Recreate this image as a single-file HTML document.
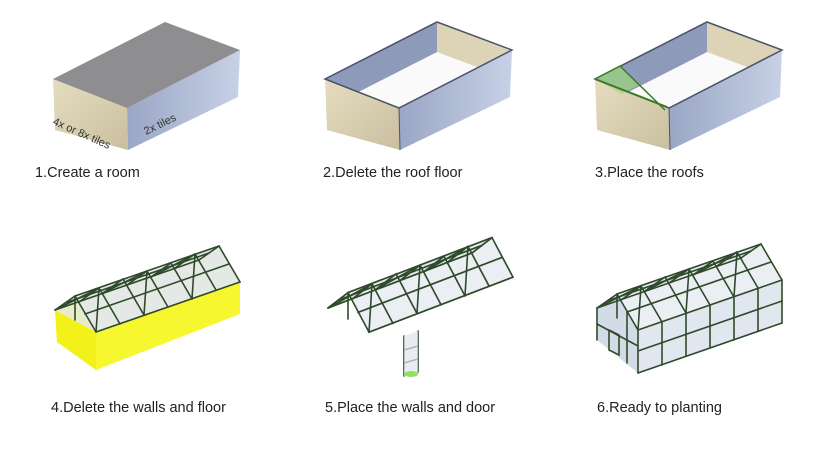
<!DOCTYPE html>
<html><head><style>
body{margin:0;background:#fff;}
svg{display:block;}
text{font-family:"Liberation Sans",sans-serif;}
.lbl{font-size:14.5px;fill:#222;}
.g line,.g polyline{stroke:#2f4a2a;stroke-width:1.6;fill:none;stroke-linecap:round;}
</style></head><body>
<svg width="830" height="450" viewBox="0 0 830 450" xmlns="http://www.w3.org/2000/svg">
<defs>
<linearGradient id="front" x1="0" y1="0" x2="1" y2="1"><stop offset="0" stop-color="#e6dcc0"/><stop offset="1" stop-color="#c9bf9f"/></linearGradient>
<linearGradient id="side" x1="0" y1="0" x2="1" y2="0"><stop offset="0" stop-color="#9aa6c4"/><stop offset="1" stop-color="#c7d1e6"/></linearGradient>
<clipPath id="c2"><polygon points="53,79 165,22 240,50 127,108"/></clipPath>
<g id="box">
<polygon points="53,79 127,108 128,150 55,130" fill="url(#front)"/>
<polygon points="127,108 240,50 238,97 128,150" fill="url(#side)"/>
</g>
<g id="hollow">
<use href="#box"/>
<polygon points="53,79 165,22 240,50 127,108" fill="#fafafa"/>
<g clip-path="url(#c2)">
<polygon points="53,79 165,22 165,52 53,109" fill="#8e9aba"/>
<polygon points="165,22 240,50 240,80 165,52" fill="#ddd3b6"/>
</g>
<polygon points="53,79 165,22 240,50 127,108" fill="none" stroke="#4a5268" stroke-width="1.5"/>
<line x1="127" y1="108" x2="128" y2="150" stroke="#4a5268" stroke-width="1"/>
</g>
<g id="frame" class="g">
<line x1="0" y1="0" x2="144" y2="-50"/><line x1="20" y1="-14" x2="164" y2="-64"/><line x1="41" y1="22" x2="185" y2="-28"/>
<line x1="10" y1="-7" x2="154" y2="-57"/><line x1="30" y1="4" x2="174" y2="-46"/>
<polyline points="0,0 20,-14 41,22"/><polyline points="24,-8 44,-22 65,14"/><polyline points="48,-17 68,-31 89,5"/>
<polyline points="72,-25 92,-39 113,-3"/><polyline points="96,-33 116,-47 137,-11"/><polyline points="120,-42 140,-56 161,-20"/><polyline points="144,-50 164,-64 185,-28"/>
<line x1="0" y1="0" x2="44" y2="-22"/><line x1="48" y1="-17" x2="92" y2="-39"/><line x1="96" y1="-33" x2="140" y2="-56"/>
<line x1="41" y1="22" x2="44" y2="-22"/><line x1="89" y1="5" x2="92" y2="-39"/><line x1="137" y1="-11" x2="140" y2="-56"/>
<line x1="20" y1="-14" x2="20" y2="10"/>
</g>
<g id="roofs">
<polygon points="0,0 20,-14 164,-64 144,-50" fill="#d6dde6" opacity="0.6"/>
<polygon points="20,-14 41,22 185,-28 164,-64" fill="#e2e8ef" opacity="0.7"/>
</g>
</defs>

<!-- panel 1 -->
<use href="#box"/>
<polygon points="53,79 165,22 240,50 127,108" fill="#8e8e90"/>
<text x="0" y="0" font-size="11" fill="#333" transform="translate(52,124) rotate(24)">4x or 8x tiles</text>
<text x="0" y="0" font-size="11" fill="#333" transform="translate(146,135) rotate(-26)">2x tiles</text>

<!-- panel 2 -->
<use href="#hollow" transform="translate(272,0)"/>
<!-- panel 3 -->
<use href="#hollow" transform="translate(542,0)"/>
<polygon points="595,79 620,66 640,84 622,94" fill="#9fd67a" opacity="0.7"/>
<polyline points="595,79 620,66 665,110" fill="none" stroke="#3c7a2a" stroke-width="1.5"/>
<line x1="595" y1="79" x2="667" y2="107" stroke="#3c7a2a" stroke-width="2"/>

<text class="lbl" x="35" y="177">1.Create a room</text>
<text class="lbl" x="323" y="177">2.Delete the roof floor</text>
<text class="lbl" x="595" y="177">3.Place the roofs</text>

<!-- panel 4 -->
<g transform="translate(55,310)">
<polygon points="0,0 41,22 41,60 2,32" fill="#f2f21a"/>
<polygon points="41,22 185,-28 185,4 41,60" fill="#f7f730"/>
<polygon points="0,0 20,-14 164,-64 185,-28 41,22" fill="#e8eccc"/>
<use href="#roofs"/>
<use href="#frame"/>
</g>
<!-- panel 5 -->
<g transform="translate(328,308)">
<g transform="scale(1,1.1)">
<use href="#roofs"/>
<use href="#frame"/>
</g>
<g class="g"><line x1="76" y1="28" x2="76" y2="68"/><line x1="90" y1="23" x2="90" y2="64"/><line x1="76" y1="42" x2="90" y2="38"/><line x1="76" y1="55" x2="90" y2="51"/></g>
<polygon points="76,28 90,23 90,64 76,68" fill="#dfe5ee" opacity="0.7"/>
<ellipse cx="83" cy="66" rx="7" ry="3" fill="#8fe060"/>
</g>
<!-- panel 6 -->
<g transform="translate(597,308)">
<polygon points="41,22 185,-28 185,15 41,65" fill="#e1e7ef"/>
<polygon points="0,0 20,-14 41,22 41,65 0,32" fill="#d3dbe6"/>
<use href="#roofs"/>
<use href="#frame"/>
<g class="g">
<line x1="41" y1="22" x2="41" y2="65"/><line x1="65" y1="14" x2="65" y2="57"/><line x1="89" y1="5" x2="89" y2="48"/><line x1="113" y1="-3" x2="113" y2="40"/><line x1="137" y1="-11" x2="137" y2="32"/><line x1="161" y1="-20" x2="161" y2="23"/><line x1="185" y1="-28" x2="185" y2="15"/>
<line x1="41" y1="43" x2="185" y2="-7"/><line x1="41" y1="65" x2="185" y2="15"/>
<line x1="0" y1="0" x2="0" y2="32"/><line x1="0" y1="16" x2="41" y2="38"/><line x1="30" y1="4" x2="30" y2="55"/>
<polyline points="12,22 22,27 22,47 12,42 12,22"/>
</g>
</g>

<text class="lbl" x="51" y="412">4.Delete the walls and floor</text>
<text class="lbl" x="325" y="412">5.Place the walls and door</text>
<text class="lbl" x="597" y="412">6.Ready to planting</text>
</svg>
</body></html>
